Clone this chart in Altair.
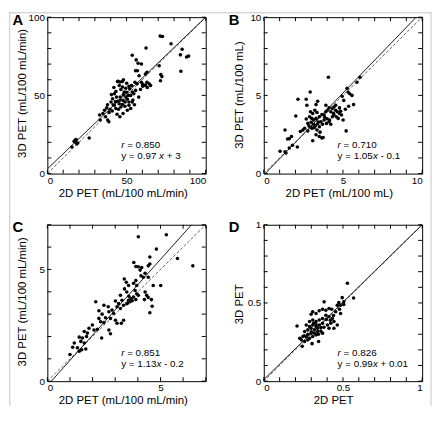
import altair as alt
import pandas as pd

FONT = "Liberation Sans"
W, H = 161, 159

# ---------------- data ----------------
A_x = [15.5, 16.9, 17.9, 18.6, 19.2, 17.7, 18.2, 26.4,
       33.4, 33.0, 35.1, 36.7, 38.1, 38.8, 36.1, 37.5, 39.6, 40.2, 41.2, 42.3, 43.3, 43.7, 44.5, 45.4,
       42.3, 43.3, 44.9, 46.4, 47.4, 44.3, 45.4, 46.4, 47.4, 48.5, 49.5, 50.5, 47.8, 49.1, 51.5, 52.6,
       53.6, 54.6, 55.7, 53.2, 55.3, 56.7, 45.8, 47.8, 52.6, 51.5, 50.5, 53.6, 52.0, 57.7, 58.8, 60.2,
       61.9, 62.9, 53.6, 56.1, 57.3, 59.4, 55.7, 56.9, 59.4, 61.9, 62.9, 64.3, 65.2, 71.2, 72.7, 78.1,
       62.3, 85.1, 84.0, 87.9, 89.2, 84.3, 70.6, 71.6, 72.3, 71.4, 57.9, 60.2, 61.9, 63.1, 50.1, 51.5,
       44.7, 45.9, 47.4, 40.5, 41.5, 43.0, 46.0, 48.0, 49.0, 50.0, 39.0, 41.0, 44.0, 46.0, 38.0, 42.0,
       48.0, 54.0, 55.0, 51.0, 49.5]
A_y = [17.0, 20.6, 20.0, 18.9, 19.5, 21.4, 21.8, 22.7,
       34.2, 37.4, 38.4, 36.3, 34.2, 33.2, 40.5, 42.0, 41.2, 45.8, 47.9, 51.1, 52.5, 48.9, 46.2, 44.7,
       43.7, 41.6, 41.2, 42.6, 44.1, 58.8, 56.3, 53.8, 55.3, 52.1, 48.9, 47.5, 46.8, 45.8, 45.8, 50.0,
       52.1, 51.1, 53.2, 56.3, 58.4, 57.4, 36.3, 38.4, 41.6, 43.7, 40.5, 45.8, 54.2, 48.9, 53.8, 55.9,
       56.7, 58.4, 75.6, 72.7, 70.6, 70.0, 65.8, 65.8, 58.4, 63.7, 64.7, 57.4, 56.3, 87.9, 87.7, 83.0,
       80.3, 79.5, 75.9, 74.6, 75.1, 65.4, 69.0, 63.3, 62.0, 59.4, 62.5, 57.1, 56.3, 55.1, 57.8, 55.9,
       59.1, 58.5, 58.9, 50.5, 44.0, 46.0, 49.0, 50.5, 43.0, 52.0, 39.0, 40.0, 38.0, 47.0, 44.0, 55.0,
       60.0, 47.0, 44.0, 50.0, 54.5]

B_x = [4.08, 6.08, 5.88, 2.93, 2.16, 2.68, 3.40, 2.72, 3.30, 3.92, 4.78, 4.54, 5.26, 5.32, 5.42, 5.57,
       5.05, 5.67, 5.36, 5.15, 4.85, 4.91, 5.01, 5.20, 2.02, 1.34, 1.50, 1.61, 1.75, 1.03, 1.34, 1.40,
       1.61, 1.81, 2.12, 2.31, 2.47, 2.58, 2.78, 2.99, 3.09, 3.30, 3.51, 3.67, 3.75, 3.55, 4.12, 4.23,
       4.16, 3.81, 3.92, 4.02, 4.12, 4.33, 4.43, 4.54, 4.64, 4.23, 4.33, 4.43, 4.58, 4.70, 4.78, 2.95,
       3.09, 3.22, 3.36, 2.89, 3.03, 3.15, 3.30, 2.99, 3.13, 3.26, 3.40, 3.05, 3.20, 3.36, 3.51, 3.61,
       3.71, 3.81, 3.96, 2.68, 2.78, 3.51, 3.67, 3.85, 4.00, 3.45, 2.85, 4.40, 4.95]
B_y = [6.16, 6.16, 5.84, 5.21, 4.75, 4.75, 4.62, 4.37, 4.41, 4.37, 4.20, 4.37, 5.46, 5.21, 5.10, 5.00,
       4.68, 4.41, 4.31, 4.12, 3.99, 3.74, 3.42, 2.73, 3.68, 2.79, 2.21, 2.23, 2.37, 1.43, 1.39, 1.32,
       1.64, 1.81, 1.70, 2.69, 2.79, 2.90, 2.73, 2.94, 2.10, 2.48, 2.37, 2.27, 2.31, 2.65, 3.32, 3.15,
       3.42, 3.74, 3.95, 4.05, 4.20, 4.16, 4.26, 4.05, 3.95, 3.95, 3.63, 3.74, 3.63, 3.53, 3.84, 3.95,
       3.84, 4.05, 3.91, 3.63, 3.53, 3.42, 3.53, 3.28, 3.15, 3.07, 3.19, 2.90, 2.94, 2.79, 3.00, 3.32,
       3.15, 3.42, 3.21, 3.49, 3.21, 3.63, 3.78, 3.60, 3.50, 3.30, 3.05, 3.85, 4.95]

C_x = [4.02, 5.26, 4.82, 6.43, 5.75, 4.53, 3.82, 3.91, 4.02, 4.10, 4.17, 4.46, 4.53, 4.32, 4.24, 4.14,
       4.46, 3.91, 3.95, 3.81, 4.68, 5.01, 3.40, 3.49, 3.59, 3.41, 3.51, 3.88, 3.95, 4.02, 3.81, 3.91,
       4.32, 4.39, 4.46, 4.29, 4.60, 4.63, 4.53, 3.23, 3.30, 3.15, 3.01, 3.08, 3.23, 3.37, 3.51, 3.59,
       2.86, 2.93, 2.72, 2.79, 2.14, 2.50, 2.69, 2.28, 2.42, 2.57, 2.28, 2.35, 2.50, 3.01, 3.08, 3.27,
       3.37, 2.72, 2.79, 2.40, 1.99, 1.84, 2.06, 2.21, 1.63, 1.77, 1.73, 1.55, 1.41, 1.48, 1.63, 1.70,
       1.19, 1.33, 1.41, 1.52, 1.12, 1.00, 3.65, 3.70, 3.75, 3.55, 3.60]
C_y = [6.46, 6.55, 5.91, 5.16, 5.49, 5.56, 5.31, 5.13, 5.12, 4.97, 5.09, 5.16, 5.24, 4.83, 4.65, 4.72,
       4.65, 4.50, 4.28, 4.38, 4.28, 4.28, 4.57, 4.43, 4.28, 4.13, 3.99, 4.06, 3.91, 3.84, 3.77, 3.65,
       3.99, 3.84, 3.74, 3.65, 3.65, 3.35, 3.06, 3.84, 3.62, 3.47, 3.59, 3.33, 3.25, 3.40, 3.47, 3.62,
       3.18, 3.03, 3.11, 2.81, 3.55, 3.40, 3.33, 3.15, 3.00, 2.84, 2.81, 2.66, 2.62, 2.73, 2.59, 2.59,
       2.73, 2.29, 2.12, 1.93, 2.51, 2.37, 2.29, 2.32, 2.22, 2.15, 2.00, 1.93, 1.97, 1.78, 1.71, 1.44,
       1.71, 1.49, 1.34, 1.41, 1.52, 1.19, 3.55, 3.70, 3.60, 3.50, 3.80]

D_x = [0.528, 0.567, 0.495, 0.505, 0.474, 0.464, 0.485, 0.505, 0.478, 0.454, 0.485, 0.381, 0.210,
       0.299, 0.309, 0.330, 0.350, 0.371, 0.392, 0.412, 0.429, 0.392, 0.412, 0.433, 0.443, 0.423,
       0.402, 0.412, 0.268, 0.289, 0.309, 0.330, 0.350, 0.371, 0.289, 0.309, 0.330, 0.350, 0.371,
       0.278, 0.299, 0.320, 0.340, 0.361, 0.258, 0.278, 0.299, 0.320, 0.340, 0.247, 0.268, 0.289,
       0.309, 0.330, 0.237, 0.258, 0.278, 0.227, 0.243, 0.305, 0.371, 0.346, 0.443, 0.464, 0.360,
       0.330, 0.315, 0.395, 0.420, 0.380, 0.345, 0.300, 0.255, 0.440]
D_y = [0.626, 0.532, 0.534, 0.507, 0.502, 0.485, 0.485, 0.490, 0.460, 0.444, 0.433, 0.507, 0.353,
       0.428, 0.444, 0.433, 0.450, 0.460, 0.454, 0.464, 0.460, 0.422, 0.412, 0.401, 0.381, 0.370,
       0.359, 0.338, 0.359, 0.381, 0.391, 0.381, 0.391, 0.401, 0.349, 0.359, 0.349, 0.359, 0.370,
       0.328, 0.338, 0.328, 0.338, 0.343, 0.317, 0.300, 0.306, 0.306, 0.317, 0.285, 0.285, 0.275,
       0.285, 0.296, 0.264, 0.254, 0.264, 0.275, 0.223, 0.240, 0.307, 0.254, 0.338, 0.359, 0.320,
       0.360, 0.370, 0.395, 0.390, 0.345, 0.300, 0.315, 0.290, 0.420]

A_ticks = [0, 10, 20, 30, 40, 50, 60, 70, 80, 90, 100]
B_ticks = [0, 1, 2, 3, 4, 5, 6, 7, 8, 9, 10]
C_ticks = [0, 1, 2, 3, 4, 5, 6, 7]
D_ticks = [0, 0.1, 0.2, 0.3, 0.4, 0.5, 0.6, 0.7, 0.8, 0.9, 1.0]

A_labels = [0, 50, 100]
B_labels = [0, 5, 10]
C_labels = [0, 5]
D_labels = [0, 0.5, 1]

fits = {  # slope, intercept, r
    "A": (0.97, 3, "0.850"),
    "B": (1.05, -0.1, "0.710"),
    "C": (1.13, -0.2, "0.851"),
    "D": (0.99, 0.01, "0.826"),
}
eq_pre = {"A": "y = 0.97", "B": "y = 1.05", "C": "y = 1.13", "D": "y = 0.99"}
eq_post = {"A": "+ 3", "B": "- 0.1", "C": "- 0.2", "D": "+ 0.01"}
x_titles = {"A": "2D PET (mL/100 mL/min)", "B": "2D PET (mL/100 mL)",
            "C": "2D PET (mL/100 mL/min)", "D": "2D PET"}
y_titles = {"A": "3D PET (mL/100 mL/min)", "B": "3D PET (mL/100 mL)",
            "C": "3D PET (mL/100 mL/min)", "D": "3D PET"}

# outer frame (pixel offsets from panel A's plot origin)
FRAME_X0 = [-38.7, -38.7, 389.5]
FRAME_X1 = [-37.7, 390.5, 390.5]
FRAME_Y0 = [-5.0, -5.0, -5.0]
FRAME_Y1 = [395.0, -4.0, 395.0]


def one_row(**kw):
    return pd.DataFrame({k: [v] for k, v in kw.items()})


def panel(letter, xs, ys, dmax, ticks, labels, xt_off, yt_off, eq_x, eq_post_x, frame=False):
    slope, intercept, r = fits[letter]
    sc = alt.Scale(domain=[0, dmax], nice=False, zero=False)
    pts = pd.DataFrame({"x": xs, "y": ys})
    xaxis = alt.Axis(values=labels, format="~f", ticks=False, domain=False, grid=False,
                     labelPadding=2, title=x_titles[letter], titleX=W / 2 + xt_off,
                     titleY=20, titleBaseline="middle", titleAlign="center")
    yaxis = alt.Axis(values=labels, format="~f", ticks=False, domain=False, grid=False,
                     labelPadding=3, title=y_titles[letter], titleX=-25,
                     titleY=H / 2 + yt_off, titleAngle=270, titleBaseline="middle",
                     titleAlign="center")
    points = alt.Chart(pts).mark_circle(size=13, color="black", opacity=1).encode(
        x=alt.X("x:Q", scale=sc, axis=xaxis),
        y=alt.Y("y:Q", scale=sc, axis=yaxis),
    )
    tdf = pd.DataFrame({"t": ticks})
    tx = alt.X("t:Q", scale=sc, axis=xaxis)
    ty = alt.Y("t:Q", scale=sc, axis=yaxis)
    tick_style = dict(color="black", strokeWidth=1)
    t_bottom = alt.Chart(tdf).mark_rule(**tick_style).encode(x=tx, y=alt.value(H), y2=alt.value(H - 4))
    t_top = alt.Chart(tdf).mark_rule(**tick_style).encode(x=tx, y=alt.value(0), y2=alt.value(4))
    t_left = alt.Chart(tdf).mark_rule(**tick_style).encode(y=ty, x=alt.value(0), x2=alt.value(4))
    t_right = alt.Chart(tdf).mark_rule(**tick_style).encode(y=ty, x=alt.value(W), x2=alt.value(W - 4))

    ident = pd.DataFrame({"x": [0, dmax], "y": [0, dmax]})
    reg = pd.DataFrame({"x": [0, dmax], "y": [intercept, slope * dmax + intercept]})
    l_ident = alt.Chart(ident).mark_line(clip=True, color="#333", strokeWidth=0.8,
                                         strokeDash=[3, 2]).encode(
        x=alt.X("x:Q", scale=sc, axis=xaxis), y=alt.Y("y:Q", scale=sc, axis=yaxis))
    l_reg = alt.Chart(reg).mark_line(clip=True, color="black", strokeWidth=0.9).encode(
        x=alt.X("x:Q", scale=sc, axis=xaxis), y=alt.Y("y:Q", scale=sc, axis=yaxis))

    tx0, ty1, ty2 = 75, 130.2, 141.6
    ann = one_row(r="r", rv="= " + r, pre=eq_pre[letter], xv="x", post=eq_post[letter], L=letter)
    base_txt = dict(font=FONT, fontSize=10, align="left", baseline="middle", color="black")
    t1 = alt.Chart(ann).mark_text(fontStyle="italic", **base_txt).encode(
        text="r:N", x=alt.value(tx0), y=alt.value(ty1))
    t2 = alt.Chart(ann).mark_text(**base_txt).encode(
        text="rv:N", x=alt.value(tx0 + 6.1), y=alt.value(ty1))
    t3 = alt.Chart(ann).mark_text(**base_txt).encode(
        text="pre:N", x=alt.value(tx0), y=alt.value(ty2))
    t4 = alt.Chart(ann).mark_text(fontStyle="italic", **base_txt).encode(
        text="xv:N", x=alt.value(tx0 + eq_x), y=alt.value(ty2))
    t5 = alt.Chart(ann).mark_text(**base_txt).encode(
        text="post:N", x=alt.value(tx0 + eq_post_x), y=alt.value(ty2))
    lab = alt.Chart(ann).mark_text(font=FONT, fontSize=15, fontWeight="bold", align="left",
                                   baseline="middle", color="black").encode(
        text="L:N", x=alt.value(-35.5), y=alt.value(2.5))

    layers = [points, l_ident, l_reg, t_bottom, t_top, t_left, t_right, t1, t2, t3, t4, t5, lab]
    if frame:
        fr = pd.DataFrame({"x0": FRAME_X0, "x1": FRAME_X1, "y0": FRAME_Y0, "y1": FRAME_Y1})
        layers.append(
            alt.Chart(fr).mark_rect(color="#c4c4c4", opacity=1).encode(
                x=alt.X("x0:Q", scale=None, axis=None), x2="x1:Q",
                y=alt.Y("y0:Q", scale=None, axis=None), y2="y1:Q"))
    return alt.layer(*layers).properties(width=W, height=H)


pA = panel("A", A_x, A_y, 100, A_ticks, A_labels, -3.8, -2.5, 38.6, 46.4, frame=True)
pB = panel("B", B_x, B_y, 10, B_ticks, B_labels, -4.2, -0.8, 35.9, 43.6)
pC = panel("C", C_x, C_y, 7, C_ticks, C_labels, -3.8, -1.6, 35.9, 43.6)
pD = panel("D", D_x, D_y, 1, D_ticks, D_labels, -10, 0.9, 35.9, 43.6)

chart = alt.concat(pA, pB, pC, pD, columns=2, spacing={"row": 52, "column": 59},
                   bounds="flush").properties(padding=0).configure_view(
    stroke="black", strokeWidth=1).configure_axis(
    labelFont=FONT, labelFontSize=10, labelColor="black",
    titleFont=FONT, titleFontSize=11.6, titleFontWeight="normal", titleColor="black")

chart.save("out.html", embed_options={"renderer": "svg", "actions": False})
